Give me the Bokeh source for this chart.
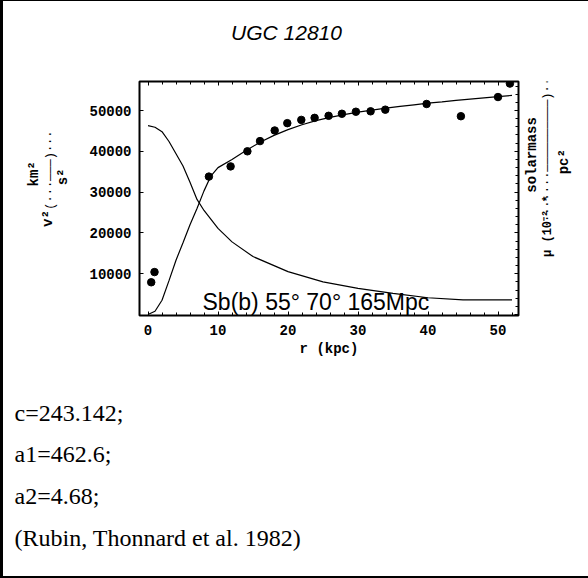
import numpy as np
from bokeh.plotting import figure
from bokeh.layouts import column, row
from bokeh.models import Range1d, LinearAxis, SingleIntervalTicker, FixedTicker, Label
from bokeh.embed import file_html
from bokeh.resources import INLINE

# ---------------- data ----------------
title_text = "UGC 12810"
x_label = "r (kpc)"
info_text = "Sb(b) 55\u00b0 70\u00b0 165Mpc"
caption_lines = ["c=243.142;", "a1=462.6;", "a2=4.68;", "(Rubin, Thonnard et al. 1982)"]

x_ticks = [0, 10, 20, 30, 40, 50]
y_ticks = [10000, 20000, 30000, 40000, 50000]

# observed v^2 (km^2/s^2) vs r (kpc)
r_obs = [0.46, 0.93, 8.7, 11.8, 14.2, 16.0, 18.1, 19.9, 21.9, 23.8, 25.8, 27.7,
         29.7, 31.8, 33.9, 39.8, 44.7, 50.0, 51.7]
v2_obs = [7900, 10400, 33800, 36300, 40000, 42500, 45100, 46900, 47700, 48200, 48700, 49200,
          49700, 49800, 50200, 51600, 48600, 53300, 56600]

# fitted v^2 curve
r_fit = [0, 1, 2, 3, 4, 5, 6, 7, 8, 9, 10, 12, 14, 16, 18, 20, 22, 24, 26, 28, 30,
         32, 34, 36, 38, 40, 42, 44, 46, 48, 50, 52]
v2_fit = [0, 800, 3500, 8300, 13300, 17600, 22000, 26000, 30300, 34000, 36000, 38000,
          40200, 42200, 43900, 45300, 46500, 47500, 48300, 49000, 49600, 50100, 50600,
          51000, 51400, 51800, 52100, 52500, 52800, 53100, 53400, 53700]

# surface density mu curve (same scale)
r_mu = [0, 1, 2, 3, 4, 5, 6, 7, 8, 10, 12, 15, 20, 25, 30, 35, 40, 45, 52]
mu = [46300, 45900, 44800, 42400, 39400, 36400, 32400, 28200, 25500, 21100, 17800,
      14200, 10500, 8000, 6400, 5200, 4100, 3600, 3600]

# ---------------- layout (page pixels) ----------------
PX0, PY0 = 3, 1            # canvas origin on the page (left/top border)
PX1, PY1 = 588, 576
COL_L, COL_R = 75, 522     # main chart figure horizontal extent
ROW_T, ROW_B = 61, 370     # middle row vertical extent
FR_L, FR_R, FR_T, FR_B = 139, 518, 81, 315   # plot frame

X0, XS = 147.5, 7.0        # page pixel of r=0, pixels per kpc
Y0, YS = 314.0, 0.00408


def dx(px):
    return (px - X0) / XS


def dy(py):
    return (Y0 - py) / YS


MONO = "Liberation Mono"
DOT = "\u00b7"
BAR = "\u2014"


def text_fig(x0, x1, y0, y1):
    """Blank figure whose frame is the whole canvas, in page-pixel coordinates."""
    f = figure(width=x1 - x0, height=y1 - y0, output_backend="svg", toolbar_location=None,
               x_range=Range1d(x0, x1), y_range=Range1d(y1, y0),
               x_axis_location=None, y_axis_location=None, min_border=0)
    f.grid.visible = False
    f.outline_line_color = None
    f.background_fill_color = "white"
    f.border_fill_color = "white"
    return f


def lab(f, px, py, text, font=MONO, size="14px", style="bold", angle=0.0,
        align="center", baseline="middle"):
    f.add_layout(Label(x=px, y=py, text=text, angle=angle,
                       text_font=font, text_font_size=size, text_font_style=style,
                       text_align=align, text_baseline=baseline, text_color="black"))


# ---------------- main chart ----------------
p = figure(width=COL_R - COL_L, height=ROW_B - ROW_T, output_backend="svg",
           toolbar_location=None,
           x_range=Range1d(dx(FR_L), dx(FR_R)), y_range=Range1d(dy(FR_B), dy(FR_T)),
           min_border_left=FR_L - COL_L, min_border_right=COL_R - FR_R,
           min_border_top=FR_T - ROW_T, min_border_bottom=ROW_B - FR_B,
           x_axis_location=None, y_axis_location=None)
p.grid.visible = False
p.outline_line_color = "black"
p.outline_line_width = 2
p.background_fill_color = "white"
p.border_fill_color = "white"


def style_axis(ax, labels=True, ticks=None):
    ax.axis_line_color = None
    ax.major_tick_in = 4
    ax.major_tick_out = 0
    ax.minor_tick_in = 3
    ax.minor_tick_out = 0
    ax.major_tick_line_color = "black"
    ax.minor_tick_line_color = "black"
    ax.major_label_text_font = MONO
    ax.major_label_text_font_style = "bold"
    ax.major_label_text_color = "black"
    ax.major_label_text_font_size = "14px"
    if not labels:
        ax.major_label_standoff = 0
        ax.major_label_overrides = {t: "" for t in ticks}


bottom = LinearAxis(ticker=SingleIntervalTicker(interval=10, num_minor_ticks=5))
style_axis(bottom)
bottom.major_label_standoff = 9
bottom.axis_label = x_label
bottom.axis_label_text_font = MONO
bottom.axis_label_text_font_size = "14px"
bottom.axis_label_text_font_style = "bold"
bottom.axis_label_text_color = "black"
bottom.axis_label_standoff = 3
p.add_layout(bottom, "below")

top = LinearAxis(ticker=SingleIntervalTicker(interval=10, num_minor_ticks=5))
style_axis(top, labels=False, ticks=[-10] + x_ticks + [60])
p.add_layout(top, "above")

left = LinearAxis(ticker=FixedTicker(ticks=y_ticks))
style_axis(left)
left.major_label_standoff = 8
p.add_layout(left, "left")

right = LinearAxis(ticker=SingleIntervalTicker(interval=10000, num_minor_ticks=5))
style_axis(right, labels=False, ticks=[-10000, 0] + y_ticks + [60000])
p.add_layout(right, "right")

p.line(r_fit, v2_fit, line_color="black", line_width=1.2)
p.line(r_mu, mu, line_color="black", line_width=1.2)
p.scatter(r_obs, v2_obs, size=7.5, color="black")

p.add_layout(Label(x=dx(202), y=dy(301), text=info_text,
                   text_font="Liberation Sans", text_font_size="23px",
                   text_align="left", text_baseline="middle", text_color="black"))

# ---------------- title ----------------
ft = text_fig(PX0, PX1, PY0, ROW_T)
lab(ft, 286, 32, title_text, font="Liberation Sans", size="21px", style="italic")

# ---------------- left axis label: v^2 (km^2 / s^2) ----------------
A = np.pi / 2
fl = text_fig(PX0, COL_L, ROW_T, ROW_B)
lab(fl, 47, 242, "v\u00b2", angle=A)
lab(fl, 50, 178, "(" + DOT * 3 + BAR * 3 + ")" + DOT * 3, size="12px", style="normal", angle=A)
lab(fl, 33, 183, "km\u00b2", angle=A)
lab(fl, 62, 187, "s\u00b2", angle=A)

# ---------------- right axis label: mu (10^-2 * solarmass / pc^2) ----------------
fr = text_fig(COL_R, PX1, ROW_T, ROW_B)
lab(fr, 547, 252, "\u03bc (10\u207b\u00b2 *", size="12px", angle=A)
lab(fr, 547, 142, DOT * 7 + BAR * 10 + ")" + DOT * 4, size="12px", style="normal", angle=A)
lab(fr, 531, 158, "solarmass", angle=A)
lab(fr, 563, 167, "pc\u00b2", angle=A)

# ---------------- caption ----------------
fc = text_fig(PX0, PX1, ROW_B, PY1)
for i, t in enumerate(caption_lines):
    lab(fc, 14, 412 + 41.7 * i, t, font="Liberation Serif", size="24px", style="normal",
        align="left", baseline="middle")

layout = column(ft, row(fl, p, fr, spacing=0), fc, spacing=0,
                styles={"border-left": "3px solid black", "border-top": "1px solid black",
                        "border-bottom": "2px solid black"})

open("out.html", "w").write(file_html(layout, INLINE))
